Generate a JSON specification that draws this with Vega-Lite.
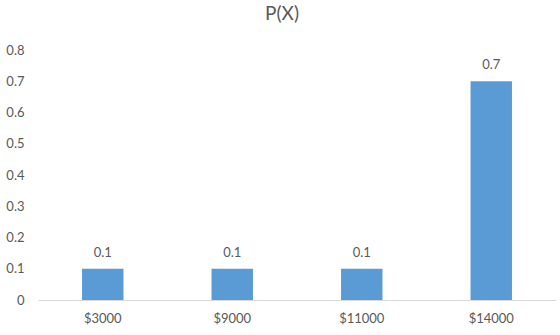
{
  "$schema": "https://vega.github.io/schema/vega-lite/v6.json",
  "autosize": {"type": "none"},
  "padding": {"left": 38, "top": 50, "right": 4, "bottom": 35},
  "width": 518,
  "height": 250,
  "background": "white",
  "title": {"text": "P(X)", "font": "Lato", "fontSize": 19, "fontWeight": "normal", "color": "#595959", "anchor": "middle", "dx": -15, "offset": 20},
  "data": {"values": [
    {"x": "$3000", "p": 0.1},
    {"x": "$9000", "p": 0.1},
    {"x": "$11000", "p": 0.1},
    {"x": "$14000", "p": 0.7}
  ]},
  "config": {"view": {"stroke": null}},
  "encoding": {
    "x": {"field": "x", "type": "nominal", "sort": null,
      "scale": {"paddingInner": 0.68, "paddingOuter": 0.34},
      "axis": {"title": null, "labelAngle": 0, "labelFont": "Lato", "labelFontSize": 13, "labelColor": "#595959", "ticks": false, "labelPadding": 12, "domainColor": "#d9d9d9", "domainWidth": 1, "grid": false}},
    "y": {"field": "p", "type": "quantitative",
      "scale": {"domain": [0, 0.8], "nice": false},
      "axis": {"title": null, "values": [0, 0.1, 0.2, 0.3, 0.4, 0.5, 0.6, 0.7, 0.8], "format": "~g", "labelFont": "Lato", "labelFontSize": 13, "labelColor": "#595959", "ticks": false, "domain": false, "grid": false, "labelPadding": 14}}
  },
  "layer": [
    {"mark": {"type": "bar", "color": "#5B9BD5"}},
    {"mark": {"type": "text", "font": "Lato", "fontSize": 13, "color": "#595959", "dy": -16, "baseline": "middle"},
     "encoding": {"text": {"field": "p", "type": "quantitative", "format": "~g"}}}
  ]
}
